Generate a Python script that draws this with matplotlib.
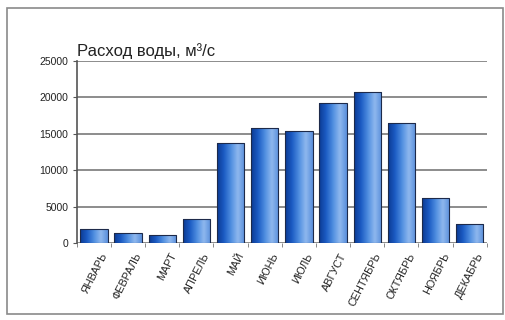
import numpy as np
import matplotlib.pyplot as plt
from matplotlib.colors import LinearSegmentedColormap
from matplotlib.patches import Rectangle

months = ['ЯНВАРЬ', 'ФЕВРАЛЬ', 'МАРТ', 'АПРЕЛЬ', 'МАЙ', 'ИЮНЬ', 'ИЮЛЬ',
          'АВГУСТ', 'СЕНТЯБРЬ', 'ОКТЯБРЬ', 'НОЯБРЬ', 'ДЕКАБРЬ']
flow = [1950, 1400, 1100, 3300, 13800, 15800, 15400, 19200, 20700, 16500, 6200, 2550]
yticks = [0, 5000, 10000, 15000, 20000, 25000]

plt.rcParams['font.family'] = ['Liberation Sans Narrow', 'Liberation Sans', 'DejaVu Sans']

fig = plt.figure(figsize=(5.05, 3.2), dpi=100)
fig.patches.append(Rectangle((7 / 505, 6 / 320), 496 / 505, 306 / 320,
                             transform=fig.transFigure, fill=False,
                             edgecolor='#8a8a8a', linewidth=1.2))
ax = fig.add_axes([0.152, 0.2406, 0.812, 0.5687])

# bars with a left-to-right shading
cmap = LinearSegmentedColormap.from_list(
    'barshade', ['#0b3a94', '#1c5cc4', '#4f8ee0', '#8fb8ee', '#5a8fdc'])
grad = np.linspace(0, 1, 64).reshape(1, -1)
x = np.arange(len(months))
bars = ax.bar(x, flow, width=0.8, color='none', edgecolor='#1d2a4a',
              linewidth=0.8, zorder=3)
for b in bars:
    x0, y0 = b.get_x(), b.get_y()
    w, h = b.get_width(), b.get_height()
    im = ax.imshow(grad, extent=[x0, x0 + w, y0, y0 + h], aspect='auto',
                   cmap=cmap, zorder=2, interpolation='bicubic')
    im.set_clip_path(b)

ax.set_xlim(-0.5, len(months) - 0.5)
ax.set_ylim(0, 25000)
ax.set_yticks(yticks)
ax.set_yticklabels([str(v) for v in yticks], fontsize=7.5, color='#222222')
ax.yaxis.grid(True, color='#8c8c8c', linewidth=1.4)
ax.set_axisbelow(True)

ax.set_xticks(x + 0.2)
ax.set_xticklabels(months, rotation=63, ha='right', rotation_mode='anchor',
                   fontsize=7.8, color='#222222')
ax.tick_params(axis='x', length=0, pad=6)
ax.set_xticks(np.arange(-0.5, len(months)), minor=True)
ax.tick_params(axis='x', which='minor', length=3, color='#777777')
ax.tick_params(axis='y', length=3, color='#555555', pad=3)

for s in ['top', 'right']:
    ax.spines[s].set_visible(False)
ax.spines['bottom'].set_visible(False)
ax.spines['left'].set_color('#555555')
ax.spines['left'].set_linewidth(1.2)

fig.text(0.153, 1 - 56 / 320, 'Расход воды, м³/с', fontsize=12,
         family=['Liberation Sans', 'DejaVu Sans'], color='#222222',
         ha='left', va='baseline')

fig.savefig('out.png', dpi=100)
